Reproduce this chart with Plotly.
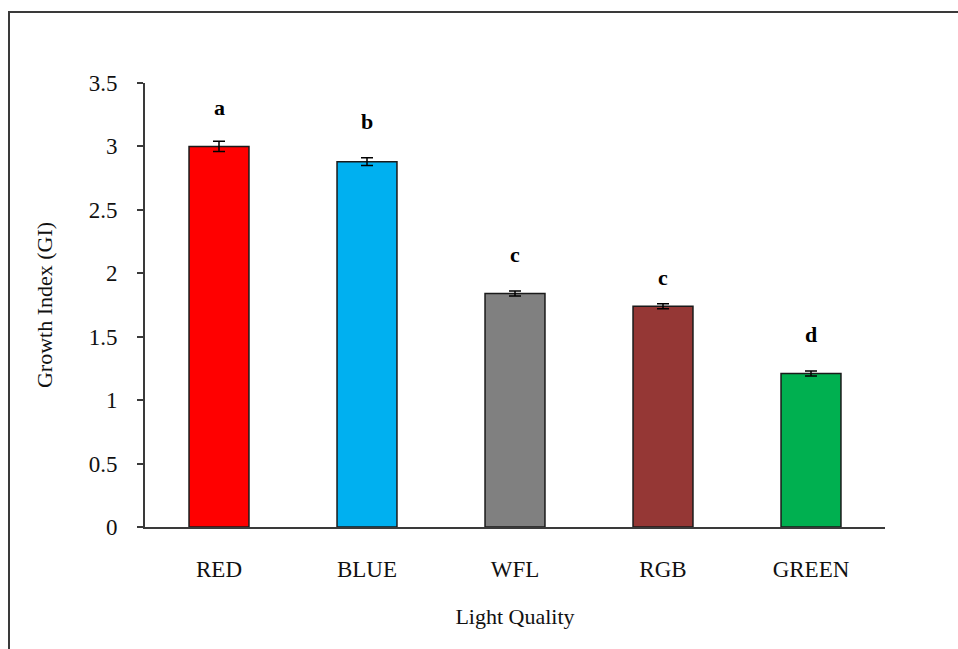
import plotly.graph_objects as go

categories = ["RED", "BLUE", "WFL", "RGB", "GREEN"]
growth_index = [3.00, 2.88, 1.84, 1.74, 1.21]
std_error = [0.04, 0.03, 0.02, 0.02, 0.02]
sig_letters = ["a", "b", "c", "c", "d"]
letter_y = [3.31, 3.20, 2.15, 1.97, 1.52]
bar_colors = ["#FF0000", "#00B0F0", "#808080", "#953735", "#00B050"]
y_ticks = [0, 0.5, 1, 1.5, 2, 2.5, 3, 3.5]
y_tick_text = ["0", "0.5", "1", "1.5", "2", "2.5", "3", "3.5"]

FONT = "Liberation Serif, Times New Roman, serif"

fig = go.Figure()
fig.add_trace(go.Bar(
    x=categories, y=growth_index,
    marker=dict(color=bar_colors, line=dict(color="#1a1a1a", width=1.5)),
    error_y=dict(type="data", array=std_error, visible=True,
                 color="#000000", thickness=1.5, width=6),
    width=0.405,
    showlegend=False,
))

for c, t, yy in zip(categories, sig_letters, letter_y):
    fig.add_annotation(x=c, y=yy, text="<b>%s</b>" % t, showarrow=False,
                       font=dict(family=FONT, size=22, color="#000000"))

# Outer frame (left and top edges visible in the reference)
L, R, T, B = 145, 885, 83, 527
def px(xp):
    return (xp - L) / (R - L)
def py(yp):
    return (B - yp) / (B - T)
fig.add_shape(type="rect", xref="paper", yref="paper",
              x0=px(9), x1=px(975), y0=py(12), y1=py(670),
              line=dict(color="#3a3a3a", width=2), layer="below")

fig.update_layout(
    width=958, height=649,
    margin=dict(l=L, r=958 - R, t=T, b=649 - B),
    paper_bgcolor="white", plot_bgcolor="white",
    font=dict(family=FONT, size=22, color="#111111"),
    xaxis=dict(
        showline=True, linecolor="#3a3a3a", linewidth=2,
        ticks="", ticklabelstandoff=20,
        tickfont=dict(family=FONT, size=23, color="#111111"),
        title=dict(text="Light Quality", standoff=28,
                   font=dict(family=FONT, size=22, color="#111111")),
        showgrid=False, zeroline=False,
    ),
    yaxis=dict(
        range=[0, 3.5], tickvals=y_ticks, ticktext=y_tick_text,
        showline=True, linecolor="#3a3a3a", linewidth=2,
        ticks="outside", ticklen=6, tickwidth=1.5, tickcolor="#3a3a3a",
        ticklabelstandoff=15,
        tickfont=dict(family=FONT, size=23, color="#111111"),
        title=dict(text="Growth Index (GI)", standoff=30,
                   font=dict(family=FONT, size=22, color="#111111")),
        showgrid=False, zeroline=False,
    ),
)

fig.write_html("out.html")
